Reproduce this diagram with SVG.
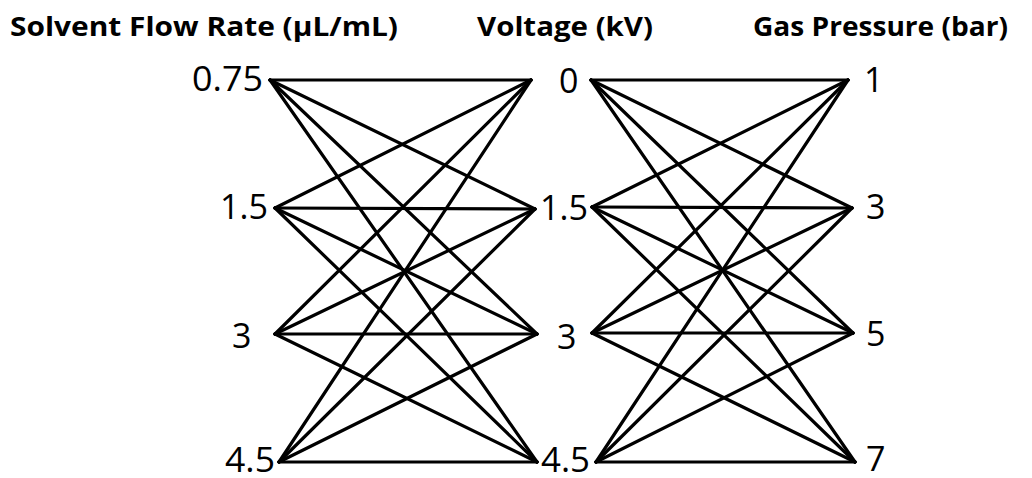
<svg xmlns="http://www.w3.org/2000/svg" width="1032" height="478" viewBox="0 0 1032 478">
<style>
.title{font-family:"Open Sans","Liberation Sans",sans-serif;font-weight:bold;font-size:27px;fill:#000}
.num{font-family:"Open Sans","Liberation Sans",sans-serif;font-size:34px;fill:#000}
.c line{stroke:#000;stroke-width:3.2;stroke-linecap:round}
</style>
<rect width="1032" height="478" fill="#fff"/>
<g id="titles">
<text class="title" x="10" y="36" textLength="388" lengthAdjust="spacingAndGlyphs">Solvent Flow Rate (µL/mL)</text>
<text class="title" x="477" y="36" textLength="176" lengthAdjust="spacingAndGlyphs">Voltage (kV)</text>
<text class="title" x="753" y="36" textLength="255" lengthAdjust="spacingAndGlyphs">Gas Pressure (bar)</text>
</g>
<g id="connectors" class="c">
<line x1="270" y1="80" x2="531" y2="80"/><line x1="270" y1="80" x2="535" y2="209"/><line x1="270" y1="80" x2="537" y2="334"/><line x1="270" y1="80" x2="537" y2="462"/>
<line x1="275" y1="208" x2="531" y2="80"/><line x1="275" y1="208" x2="535" y2="209"/><line x1="275" y1="208" x2="537" y2="334"/><line x1="275" y1="208" x2="537" y2="462"/>
<line x1="275" y1="334" x2="531" y2="80"/><line x1="275" y1="334" x2="535" y2="209"/><line x1="275" y1="334" x2="537" y2="334"/><line x1="275" y1="334" x2="537" y2="462"/>
<line x1="279" y1="462" x2="531" y2="80"/><line x1="279" y1="462" x2="535" y2="209"/><line x1="279" y1="462" x2="537" y2="334"/><line x1="279" y1="462" x2="537" y2="462"/>
<line x1="591" y1="80" x2="848" y2="80"/><line x1="591" y1="80" x2="852" y2="208"/><line x1="591" y1="80" x2="853" y2="333"/><line x1="591" y1="80" x2="855" y2="462"/>
<line x1="592" y1="207" x2="848" y2="80"/><line x1="592" y1="207" x2="852" y2="208"/><line x1="592" y1="207" x2="853" y2="333"/><line x1="592" y1="207" x2="855" y2="462"/>
<line x1="592" y1="333" x2="848" y2="80"/><line x1="592" y1="333" x2="852" y2="208"/><line x1="592" y1="333" x2="853" y2="333"/><line x1="592" y1="333" x2="855" y2="462"/>
<line x1="596" y1="462" x2="848" y2="80"/><line x1="596" y1="462" x2="852" y2="208"/><line x1="596" y1="462" x2="853" y2="333"/><line x1="596" y1="462" x2="855" y2="462"/>
</g>
<g id="flow-0.75"><text class="num" x="192" y="91" textLength="71" lengthAdjust="spacingAndGlyphs">0.75</text></g>
<g id="flow-1.5"><text class="num" x="220" y="219" textLength="48" lengthAdjust="spacingAndGlyphs">1.5</text></g>
<g id="flow-3"><text class="num" x="232" y="348">3</text></g>
<g id="flow-4.5"><text class="num" x="225" y="472" textLength="50" lengthAdjust="spacingAndGlyphs">4.5</text></g>
<g id="volt-0"><text class="num" x="559" y="93">0</text></g>
<g id="volt-1.5"><text class="num" x="540" y="220" textLength="48" lengthAdjust="spacingAndGlyphs">1.5</text></g>
<g id="volt-3"><text class="num" x="557" y="349">3</text></g>
<g id="volt-4.5"><text class="num" x="541" y="472" textLength="49" lengthAdjust="spacingAndGlyphs">4.5</text></g>
<g id="gas-1"><text class="num" x="864" y="92">1</text></g>
<g id="gas-3"><text class="num" x="866" y="219">3</text></g>
<g id="gas-5"><text class="num" x="866" y="346">5</text></g>
<g id="gas-7"><text class="num" x="866" y="471">7</text></g>
</svg>
